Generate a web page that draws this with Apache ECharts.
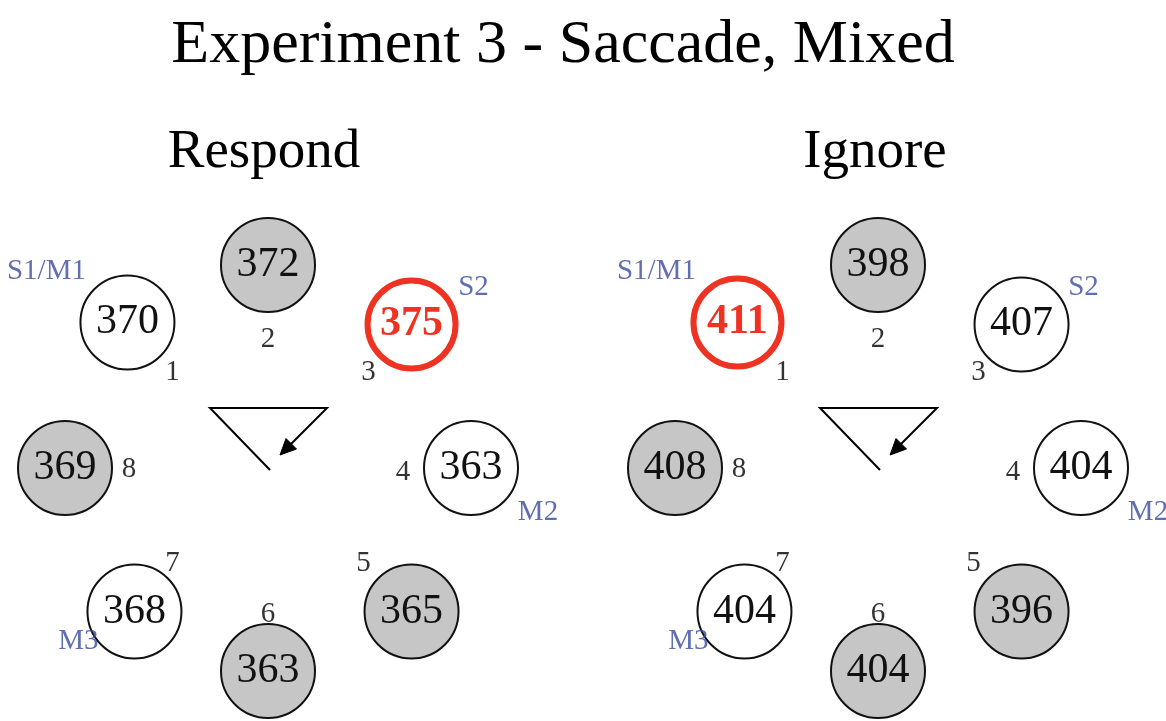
<!DOCTYPE html>
<html><head><meta charset="utf-8">
<script src="https://cdn.jsdelivr.net/npm/echarts@6/dist/echarts.min.js"></script>
<style>html,body{margin:0;padding:0;background:#fff}#chart{width:1166px;height:721px}</style>
</head><body><div id="chart"></div>
<script>
const mainTitle = 'Experiment 3 - Saccade, Mixed';
const panelTitles = ['Respond', 'Ignore'];
const locations = ['1', '2', '3', '4', '5', '6', '7', '8'];
const respondRT = [370, 372, 375, 363, 365, 363, 368, 369];
const ignoreRT = [411, 398, 407, 404, 396, 404, 404, 408];
const shadedLocations = ['2', '5', '6', '8'];
const highlightLocation = ['3', '1'];
const locationTags = ['S1/M1', '', 'S2', 'M2', '', '', 'M3', ''];

const panelValues = [respondRT, ignoreRT];
const FONT = '"Liberation Serif", "Times New Roman", serif';
const RING_R = 203;
const centers = [[268, 468], [878, 468]];
const titleX = [259, 870];
const tagOffsets = { 'S1/M1': [-78, -53], 'S2': [62, -37], 'M2': [67, 44], 'M3': [-46, 30] };
const circleNudge = { '1': [3, -2], '7': [10, 0] };
const numberNudge = { '2': [0, 6], '6': [0, 11], '3': [5, 0], '8': [-4, 1], '4': [0, 4] };
const BLUE = '#3a4a9c';
const RED = '#ee3322';

const chart = echarts.init(document.getElementById('chart'), null, { renderer: 'canvas' });

const titles = [{
  text: mainTitle, left: 558, top: 10, textAlign: 'center', textVerticalAlign: 'top', padding: 5,
  textStyle: { fontFamily: FONT, fontSize: 62, fontWeight: 'normal', color: '#000' }
}];
panelTitles.forEach((t, p) => titles.push({
  text: t, left: titleX[p], top: 120, textAlign: 'center', textVerticalAlign: 'top', padding: 5,
  textStyle: { fontFamily: FONT, fontSize: 55, fontWeight: 'normal', color: '#000' }
}));

const polar = centers.map(c => ({ center: [c[0], c[1]], radius: [0, RING_R] }));
const angleAxis = centers.map((c, p) => ({
  polarIndex: p, type: 'category', data: locations, startAngle: 135, clockwise: true,
  boundaryGap: false, show: false
}));
const radiusAxis = centers.map((c, p) => ({ polarIndex: p, type: 'value', min: 0, max: 1, show: false }));

const series = [];
const graphic = [];
centers.forEach((c, p) => {
  const values = panelValues[p];
  series.push({
    type: 'scatter', coordinateSystem: 'polar', polarIndex: p, symbol: 'circle', z: 3,
    label: { show: true, position: 'inside', fontFamily: FONT, fontSize: 42 },
    data: locations.map((loc, i) => {
      const hi = loc === highlightLocation[p];
      const shaded = shadedLocations.includes(loc);
      return {
        value: [1, loc],
        symbolSize: hi ? 88 : 94,
        symbolOffset: circleNudge[loc] || [0, 0],
        itemStyle: {
          color: shaded ? '#c6c6c6' : '#ffffff',
          borderColor: hi ? RED : '#111111',
          borderWidth: hi ? 6 : 2,
          opacity: 1
        },
        label: {
          formatter: String(values[i]),
          color: hi ? RED : '#111111',
          fontWeight: hi ? 'bold' : 'normal'
        }
      };
    })
  });
  series.push({
    type: 'scatter', coordinateSystem: 'polar', polarIndex: p, symbolSize: 1, z: 4,
    itemStyle: { color: 'rgba(0,0,0,0)' },
    label: { show: true, position: 'inside', fontFamily: FONT, fontSize: 29, color: '#000',
      formatter: d => d.name },
    data: locations.map(loc => ({ name: loc, value: [0.665, loc], label: { offset: numberNudge[loc] || [0, 0] } }))
  });
  series.push({
    type: 'scatter', coordinateSystem: 'polar', polarIndex: p, symbolSize: 1, z: 4,
    itemStyle: { color: 'rgba(0,0,0,0)' },
    label: { show: true, position: 'inside', fontFamily: FONT, fontSize: 29, color: BLUE,
      formatter: d => d.name },
    data: locations.map((loc, i) => ({ loc, tag: locationTags[i] }))
      .filter(d => d.tag)
      .map(d => ({ name: d.tag, value: [1, d.loc], label: { offset: tagOffsets[d.tag] } }))
  });

  const cx = c[0], cy = c[1];
  graphic.push({
    type: 'polyline', z: 10,
    shape: { points: [[cx + 2, cy + 2], [cx - 58, cy - 60], [cx + 59, cy - 60], [cx + 22, cy - 23]] },
    style: { stroke: '#000', lineWidth: 2, fill: null, lineJoin: 'miter' }
  });
  graphic.push({
    type: 'polygon', z: 10,
    shape: { points: [[cx + 12, cy - 13], [cx + 28.5, cy - 19], [cx + 18, cy - 29.5]] },
    style: { fill: '#000', stroke: '#000', lineWidth: 1 }
  });
});

chart.setOption({
  backgroundColor: '#ffffff',
  animation: false,
  tooltip: { show: false },
  title: titles,
  polar, angleAxis, radiusAxis,
  series,
  graphic
});
</script>
</body></html>
